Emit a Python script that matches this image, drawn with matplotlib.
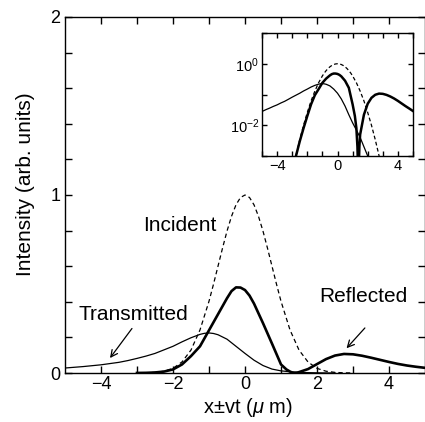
import numpy as np
import matplotlib.pyplot as plt
from matplotlib.ticker import MultipleLocator, FixedLocator, NullLocator

plt.rcParams['font.family'] = ['Liberation Sans', 'DejaVu Sans']
plt.rcParams['mathtext.fontset'] = 'custom'
plt.rcParams['mathtext.rm'] = 'Liberation Sans'
plt.rcParams['mathtext.it'] = 'Liberation Sans:italic'

# incident pulse (dashed)
x_inc = [-3.0, -2.75, -2.5, -2.25, -2.0, -1.75, -1.5, -1.25, -1.0, -0.875, -0.75, -0.625, -0.5,
         -0.375, -0.25, -0.125, 0.0, 0.125, 0.25, 0.375, 0.5, 0.625, 0.75, 0.875, 1.0, 1.25,
         1.5, 1.75, 2.0, 2.25, 2.5, 2.75, 3.0]
y_inc = [0.00028, 0.00103, 0.0034, 0.010, 0.026, 0.062, 0.129, 0.242, 0.403, 0.499, 0.600, 0.701,
         0.797, 0.880, 0.945, 0.986, 1.0, 0.986, 0.945, 0.880, 0.797, 0.701, 0.600, 0.499, 0.403,
         0.242, 0.129, 0.062, 0.026, 0.010, 0.0034, 0.00103, 0.00028]

# thick curve (central peak + reflected bump)
x_thk = [-3.0, -2.75, -2.5, -2.25, -2.0, -1.75, -1.5, -1.25, -1.0, -0.75, -0.5, -0.375, -0.25,
         -0.125, 0.0, 0.125, 0.25, 0.5, 0.75, 1.0, 1.15, 1.25, 1.32, 1.38, 1.45, 1.5, 1.75,
         2.0, 2.25, 2.5, 2.75, 3.0, 3.25, 3.5, 3.75, 4.0, 4.25, 4.5, 4.75, 5.0]
y_thk = [0.0003, 0.001, 0.003, 0.008, 0.02, 0.048, 0.095, 0.15, 0.24, 0.33, 0.42, 0.46, 0.481,
         0.48, 0.466, 0.435, 0.39, 0.28, 0.165, 0.048, 0.02, 0.008, 0.002, 0.00015, 0.002, 0.005,
         0.022, 0.05, 0.078, 0.098, 0.107, 0.105, 0.097, 0.086, 0.074, 0.062, 0.051, 0.042,
         0.035, 0.029]

# thin curve (transmitted)
x_thn = [-5.0, -4.75, -4.5, -4.25, -4.0, -3.75, -3.5, -3.25, -3.0, -2.75, -2.5, -2.25, -2.0,
         -1.75, -1.5, -1.25, -1.125, -1.0, -0.875, -0.75, -0.5, -0.25, 0.0, 0.25, 0.5, 0.75,
         1.0, 1.25, 1.5, 1.75, 2.0, 2.25, 2.5]
y_thn = [0.028, 0.032, 0.036, 0.041, 0.046, 0.053, 0.060, 0.070, 0.082, 0.095, 0.11, 0.13, 0.15,
         0.175, 0.198, 0.217, 0.223, 0.225, 0.222, 0.215, 0.19, 0.15, 0.11, 0.072, 0.042, 0.022,
         0.012, 0.007, 0.004, 0.002, 0.001, 0.0004, 0.0001]


def style_ticks(ax, size):
    ax.tick_params(which='both', direction='in', top=True, right=True,
                   labelsize=size, width=1.0)
    for s in ax.spines.values():
        s.set_linewidth(1.0)


fig = plt.figure(figsize=(4.25, 4.22), dpi=100)
ax = fig.add_axes([65/425, 49/422, 360/425, 356/422])

ax.plot(x_inc, y_inc, '--', color='black', lw=0.9, dashes=(3.5, 2.5))
ax.plot(x_thn, y_thn, '-', color='black', lw=0.9)
ax.plot(x_thk, y_thk, '-', color='black', lw=1.9)

ax.set_xlim(-5, 5)
ax.set_ylim(0, 2)
ax.xaxis.set_major_locator(FixedLocator([-4, -2, 0, 2, 4]))
ax.xaxis.set_minor_locator(FixedLocator([-3, -1, 1, 3]))
ax.yaxis.set_major_locator(FixedLocator([0, 1, 2]))
ax.yaxis.set_minor_locator(MultipleLocator(0.2))
style_ticks(ax, 13)
ax.tick_params(which='both', length=5)
ax.tick_params(axis='x', pad=2)
ax.set_xticklabels(['\u22124', '\u22122', '0', '2', '4'])

ax.set_xlabel(r'x$\pm$vt ($\mu$ m)', fontsize=14.5)
ax.set_ylabel('Intensity (arb. units)', fontsize=15)
ax.xaxis.set_label_coords(0.508, -0.066)
ax.yaxis.set_label_coords(-0.083, 0.531)

arrow = dict(arrowstyle='->', lw=0.9, color='black', shrinkA=0, shrinkB=0,
             mutation_scale=12)
ax.text(-1.81, 0.826, 'Incident', fontsize=15, ha='center', va='center')
ax.text(-3.11, 0.326, 'Transmitted', fontsize=15, ha='center', va='center')
ax.text(3.28, 0.427, 'Reflected', fontsize=15, ha='center', va='center')
ax.annotate('', xy=(-3.75, 0.084), xytext=(-3.14, 0.25), arrowprops=arrow)
ax.annotate('', xy=(2.82, 0.139), xytext=(3.33, 0.253), arrowprops=arrow)

# inset on log scale
ins = fig.add_axes([262/425, (422-156)/422, 151/425, 123/422])
ins.semilogy(x_inc, y_inc, '--', color='black', lw=0.9, dashes=(3, 2))
ins.semilogy(x_thn, y_thn, '-', color='black', lw=0.9)
ins.semilogy(x_thk, y_thk, '-', color='black', lw=1.8)
ins.set_xlim(-5, 5)
ins.set_ylim(1e-3, 1e1)
ins.xaxis.set_major_locator(FixedLocator([-4, 0, 4]))
ins.xaxis.set_minor_locator(MultipleLocator(1))
ins.yaxis.set_major_locator(FixedLocator([1e-3, 1e-2, 1e-1, 1e0, 1e1]))
ins.yaxis.set_minor_locator(NullLocator())
style_ticks(ins, 10.5)
ins.tick_params(which='both', length=3.5, pad=2)
ins.set_xticklabels(['\u22124', '0', '4'])
ins.set_yticklabels(['', r'$10^{-2}$', '', r'$10^{0}$', ''])

fig.savefig('out.png', dpi=100)
